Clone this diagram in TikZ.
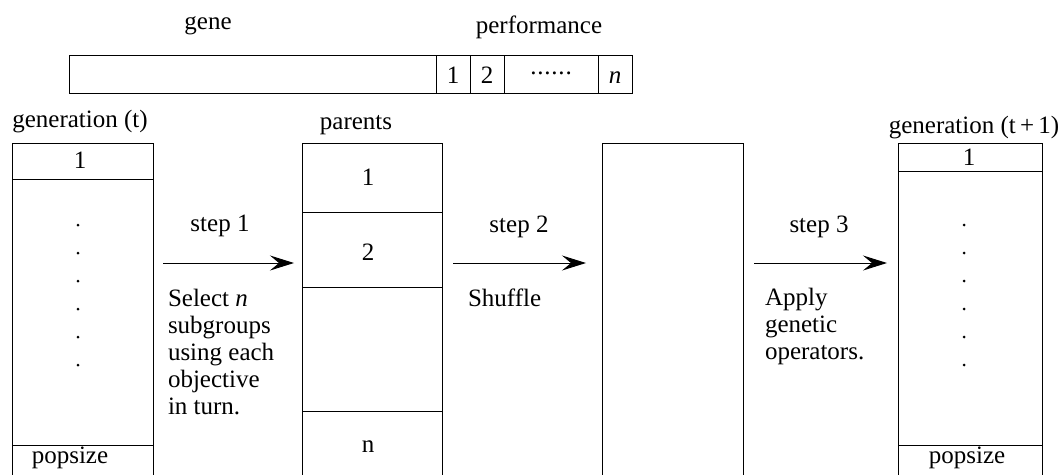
\documentclass[tikz,border=0pt]{standalone}
\usepackage{fontspec}
\setmainfont{Liberation Serif}
\usetikzlibrary{arrows.meta}
\begin{document}
\begin{tikzpicture}[x=1pt,y=-1pt,
  font=\fontsize{25}{27}\selectfont,
  every node/.style={inner sep=0pt, outer sep=0pt},
  col/.style={draw, line width=1pt, anchor=north west, minimum height=333pt},
  cell/.style={draw, line width=1pt, anchor=north west, minimum height=38pt},
  lbl/.style={anchor=base},
  desc/.style={anchor=base west, align=left},
  arr/.style={line width=1pt, -{Stealth[length=24pt,width=15pt,inset=9pt]}},
  dot/.style={circle, fill=black, minimum size=3pt}]
\fill[white] (0,0) rectangle (1062,474);
\useasboundingbox (0,0) rectangle (1062,474);

% chromosome bar
\node[cell, minimum width=367pt] (gene) at (69,55) {};
\node[cell, minimum width=34pt] (p1) at (436,55) {};
\node[cell, minimum width=34pt] (p2) at (470,55) {};
\node[cell, minimum width=94pt] (pdots) at (504,55) {};
\node[cell, minimum width=34pt] (pn) at (598,55) {};
\node[lbl] (genelbl) at (208,29) {gene};
\node[lbl] (perflbl) at (539,33) {performance};
\node[lbl] (t1) at (453,83) {1};
\node[lbl] (t2) at (487,83) {2};
\node (tdots) at (551,73) {.\kern0.8pt.\kern0.8pt.\kern0.8pt.\kern0.8pt.\kern0.8pt.};
\node[lbl] (tn) at (615,83) {\textit{n}};

% columns
\node[col, minimum width=141pt] (gt) at (12,143) {};
\node[col, minimum width=140pt] (par) at (302,143) {};
\node[col, minimum width=141pt] (shuf) at (602,143) {};
\node[col, minimum width=144pt] (gt1) at (898,143) {};

\node[lbl] (gtlbl) at (80,127) {generation (t)};
\node[lbl] (parlbl) at (356,129) {parents};
\node[lbl] (gt1lbl) at (974,133) {generation (t\,+\,1)};

% generation (t) rows
\draw[line width=1pt] (gt.west |- 0,179) -- (gt.east |- 0,179);
\draw[line width=1pt] (gt.west |- 0,445) -- (gt.east |- 0,445);
\node[lbl] (g1) at (80,168) {1};
\node[lbl] (gpop) at (70,463) {popsize};
\foreach \y [count=\i] in {225,253,281,309,337,365} {
  \node[dot] (gd\i) at (78,\y) {};
}

% parents rows
\draw[line width=1pt] (par.west |- 0,212) -- (par.east |- 0,212);
\draw[line width=1pt] (par.west |- 0,287) -- (par.east |- 0,287);
\draw[line width=1pt] (par.west |- 0,411) -- (par.east |- 0,411);
\node[lbl] (pr1) at (368,185) {1};
\node[lbl] (pr2) at (368,260) {2};
\node[lbl] (prn) at (368,452) {n};

% generation (t+1) rows
\draw[line width=1pt] (gt1.west |- 0,171) -- (gt1.east |- 0,171);
\draw[line width=1pt] (gt1.west |- 0,445) -- (gt1.east |- 0,445);
\node[lbl] (h1) at (969,165) {1};
\node[lbl] (hpop) at (967,463) {popsize};
\foreach \y [count=\i] in {225,253,281,309,337,365} {
  \node[dot] (hd\i) at (964,\y) {};
}

% arrows
\coordinate (a1s) at (163,263);
\coordinate (a1e) at (294,263);
\coordinate (a2s) at (453,263);
\coordinate (a2e) at (586,263);
\coordinate (a3s) at (754,263);
\coordinate (a3e) at (887,263);
\draw[arr] (a1s) -- (a1e);
\draw[arr] (a2s) -- (a2e);
\draw[arr] (a3s) -- (a3e);

\node[lbl] (s1) at (220,231) {step 1};
\node[lbl] (s2) at (519,232) {step 2};
\node[lbl] (s3) at (819,232) {step 3};

\node[desc] (d1) at (168,414) {Select \textit{n}\\subgroups\\using each\\objective\\in turn.};
\node[desc] (d2) at (468,306) {Shuffle};
\node[desc] (d3) at (765,359) {Apply\\genetic\\operators.};
\end{tikzpicture}
\end{document}
